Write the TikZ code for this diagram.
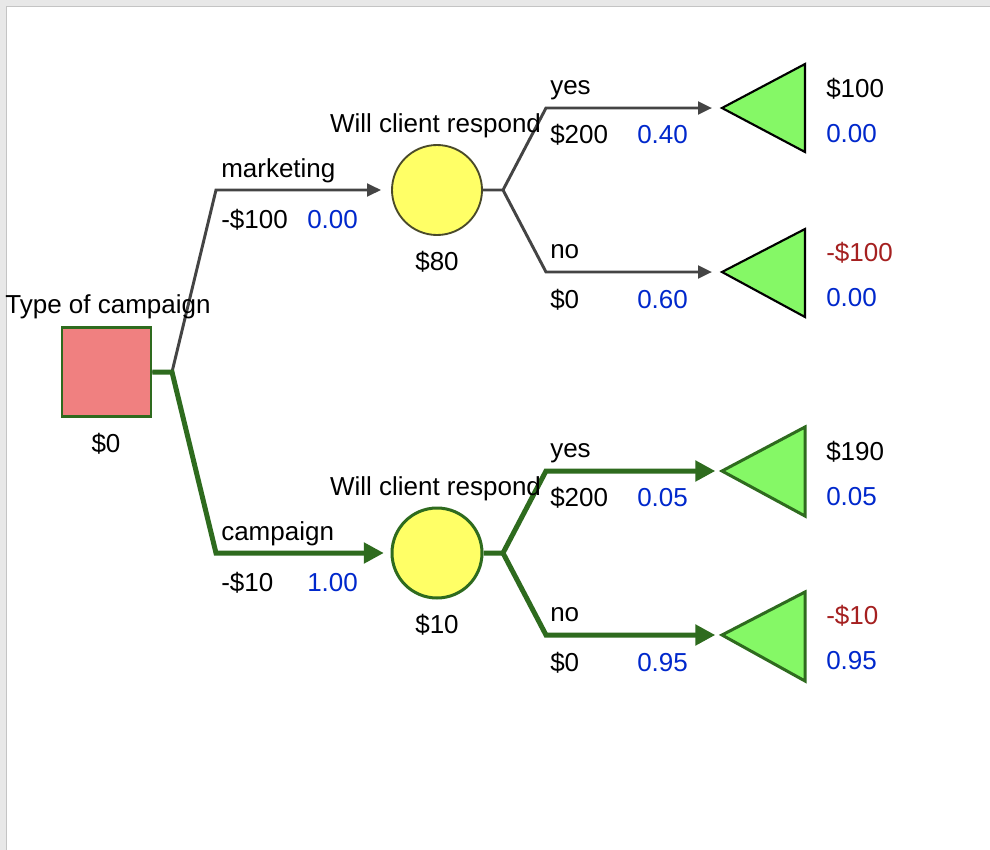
\documentclass[tikz,border=0pt]{standalone}
\usepackage{fontspec}
\setmainfont{Liberation Sans}
\usetikzlibrary{arrows.meta}
\definecolor{frameback}{HTML}{E8E8E8}
\definecolor{frameline}{HTML}{C4C4C4}
\definecolor{darkgreen}{HTML}{2E6B1E}
\definecolor{edgegray}{HTML}{444444}
\definecolor{sqfill}{HTML}{F08080}
\definecolor{circfill}{HTML}{FFFF66}
\definecolor{circline}{HTML}{4A4A2A}
\definecolor{trifill}{HTML}{85F866}
\definecolor{probblue}{HTML}{0028CC}
\definecolor{lossred}{HTML}{A52020}
\begin{document}
\begin{tikzpicture}[x=0.75pt,y=-0.75pt,
  lbl/.style={font=\fontsize{19.5pt}{22pt}\selectfont, inner sep=0pt, anchor=base west},
  clbl/.style={lbl, anchor=base},
  prob/.style={lbl, text=probblue},
  loss/.style={lbl, text=lossred},
  decbox/.style={draw=darkgreen, line width=2pt, fill=sqfill, minimum size=66.75pt, inner sep=0pt},
  chance/.style={circle, fill=circfill, minimum size=67.5pt, inner sep=0pt},
  grayedge/.style={draw=edgegray, line width=2.2pt, line join=miter},
  greenedge/.style={draw=darkgreen, line width=3.75pt, line join=miter},
  grayarrow/.style={grayedge, -{Triangle[length=10.5pt,width=9.5pt]}},
  greenarrow/.style={greenedge, -{Triangle[length=15pt,width=15pt]}},
  termgray/.style={draw=black, line width=1.6pt, fill=trifill, line join=miter},
  termgreen/.style={draw=darkgreen, line width=2.25pt, fill=trifill, line join=miter}
]
\useasboundingbox (0,0) rectangle (990,850);
% frame
\fill[frameback] (0,0) rectangle (990,850);
\fill[white] (7,7) rectangle (990,850);
\draw[frameline, line width=1.2pt] (6.5,850) -- (6.5,6.5) -- (990,6.5);

% nodes
\node[decbox] (dec) at (106.5,372) {};
\node[chance, draw=circline, line width=1.4pt] (c1) at (437,190) {};
\node[chance, draw=darkgreen, line width=2.25pt] (c2) at (437,553) {};

% coordinates
\coordinate (j0) at (172,372);
\coordinate (b1) at (216,190);
\coordinate (b2) at (216,553);
\coordinate (j1) at (503,190);
\coordinate (j2) at (503,553);
\coordinate (y1) at (546,108);
\coordinate (n1) at (546,272);
\coordinate (y2) at (546,471);
\coordinate (n2) at (546,635);
\coordinate (t1) at (722,108);
\coordinate (t2) at (722,272);
\coordinate (t3) at (722,471);
\coordinate (t4) at (722,635);

% terminal triangles
\draw[termgray] (t1) -- ++(83,-44) -- ++(0,88) -- cycle;
\draw[termgray] (t2) -- ++(83,-43) -- ++(0,88) -- cycle;
\draw[termgreen] (t3) -- ++(83,-44) -- ++(0,89) -- cycle;
\draw[termgreen] (t4) -- ++(83,-43) -- ++(0,89) -- cycle;

% connectors
\draw[grayarrow, shorten >=7.5pt] (dec.east) -- (j0) -- (b1) -- (c1.west);
\draw[greenarrow, shorten >=5pt] (dec.east) -- (j0) -- (b2) -- (c2.west);
\draw[grayarrow, shorten >=7.5pt] (c1.east) -- (j1) -- (y1) -- (t1);
\draw[grayarrow, shorten >=7.5pt] (j1) -- (n1) -- (t2);
\draw[greenarrow, shorten >=5pt] (c2.east) -- (j2) -- (y2) -- (t3);
\draw[greenarrow, shorten >=5pt] (j2) -- (n2) -- (t4);

% labels: decision
\node[clbl] (tcl) at (108,313) {Type of campaign};
\node[clbl] (dv) at (106,452) {\$0};
% marketing branch
\node[lbl] (lm) at (221,177) {marketing};
\node[lbl] (lmv) at (221,228) {-\$100};
\node[prob] (lmp) at (307,228) {0.00};
\node[clbl] (q1) at (435.5,132) {Will client respond};
\node[clbl] (c1v) at (437,270) {\$80};
\node[lbl] (y1l) at (550,94) {yes};
\node[lbl] (y1v) at (550,143) {\$200};
\node[prob] (y1p) at (637,143) {0.40};
\node[lbl] (n1l) at (550,258) {no};
\node[lbl] (n1v) at (550,308) {\$0};
\node[prob] (n1p) at (637,308) {0.60};
\node[lbl] (t1v) at (826,97) {\$100};
\node[prob] (t1p) at (826,142) {0.00};
\node[loss] (t2v) at (826,261) {-\$100};
\node[prob] (t2p) at (826,306) {0.00};
% campaign branch
\node[lbl] (lc) at (221,540) {campaign};
\node[lbl] (lcv) at (221,591) {-\$10};
\node[prob] (lcp) at (307,591) {1.00};
\node[clbl] (q2) at (435.5,495) {Will client respond};
\node[clbl] (c2v) at (437,633) {\$10};
\node[lbl] (y2l) at (550,457) {yes};
\node[lbl] (y2v) at (550,506) {\$200};
\node[prob] (y2p) at (637,506) {0.05};
\node[lbl] (n2l) at (550,621) {no};
\node[lbl] (n2v) at (550,671) {\$0};
\node[prob] (n2p) at (637,671) {0.95};
\node[lbl] (t3v) at (826,460) {\$190};
\node[prob] (t3p) at (826,505) {0.05};
\node[loss] (t4v) at (826,624) {-\$10};
\node[prob] (t4p) at (826,669) {0.95};
\end{tikzpicture}
\end{document}
